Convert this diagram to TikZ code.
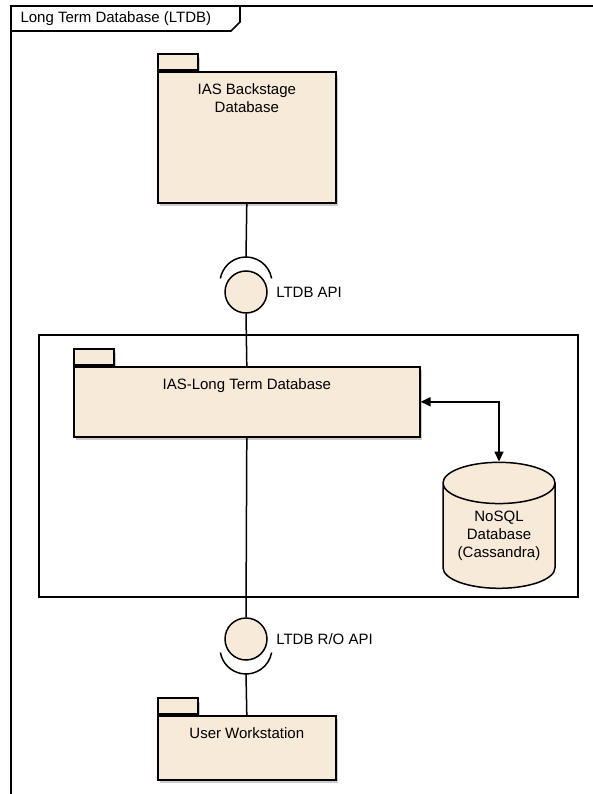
\documentclass[tikz,border=0pt]{standalone}
\usepackage{fontspec}
\setmainfont{Liberation Sans}
\usetikzlibrary{arrows.meta,positioning,shapes.geometric,shadows}
\definecolor{pkgbeige}{RGB}{247,234,216}

\tikzset{
  pkgbody/.style={draw, line width=1.6pt, fill=pkgbeige, anchor=north west, inner sep=0pt,
    drop shadow={shadow xshift=2.5pt, shadow yshift=-3.5pt, opacity=0.4}},
  pkgtab/.style={pkgbody, anchor=south west, minimum width=40pt, minimum height=16pt},
  pkgtext/.style={anchor=north, align=center, yshift=-9pt},
  ball/.style={circle, draw, line width=1.5pt, fill=pkgbeige, minimum size=42pt, inner sep=0pt},
  socket/.style={line width=1.5pt},
  wire/.style={line width=1.5pt},
  dbtip/.tip={Triangle[length=10pt,width=9pt]}
}

\begin{document}
\begin{tikzpicture}[x=1pt, y=1pt, font=\fontsize{15pt}{18pt}\selectfont]
\useasboundingbox (0,0) rectangle (592,-794);

% outer frame
\draw[line width=1.8pt] (11,-800) -- (11,-6) -- (600,-6);
\draw[line width=1.6pt] (11,-31) -- (231,-31) -- (240,-22) -- (240,-6);
\node[anchor=west] (title) at (17,-19) {Long Term Database (LTDB)};

% backstage package
\node[pkgtab] (bstab) at (157,-71) {};
\node[pkgbody, minimum width=178pt, minimum height=131pt,
  label={[pkgtext]north:{IAS Backstage\\Database}}] (backstage) at (157,-71) {};

% LTDB API
\node[ball] (api) at (246,-292) {};
\node[right=5pt of api] (apilbl) {LTDB API};
\coordinate (apisock) at ([yshift=35pt]api.center);
\draw[socket] ([yshift=9pt]api.center) ++(10:26) arc[start angle=10, end angle=170, radius=26];
\draw[wire] (backstage.south) -- (apisock);

% container
\node[draw, line width=1.6pt, minimum width=539pt, minimum height=262pt,
  anchor=north west, inner sep=0pt] (ltdbarea) at (38,-334) {};

% LTDB package
\node[pkgtab] (ltdbtab) at (73,-366) {};
\node[pkgbody, minimum width=346pt, minimum height=70pt,
  label={[pkgtext]north:IAS-Long Term Database}] (ltdb) at (73,-366) {};
\draw[wire] (api.south) -- (ltdb.north);

% cassandra
\node[cylinder, shape border rotate=90, aspect=0.5, draw, line width=1.5pt, fill=pkgbeige,
  minimum width=112pt, minimum height=126pt, align=center, inner sep=0pt]
  (nosql) at (499,-536) {NoSQL\\Database\\(Cassandra)};
\draw[wire, dbtip-dbtip] (ltdb.east) -| (nosql.top);

% LTDB R/O API
\node[ball] (roapi) at (246,-639) {};
\node[right=5pt of roapi] (rolbl) {LTDB R/O API};
\coordinate (rosock) at ([yshift=-35pt]roapi.center);
\draw[socket] ([yshift=-9pt]roapi.center) ++(-10:26) arc[start angle=-10, end angle=-170, radius=26];
\draw[wire] (ltdb.south) -- (roapi.north);

% user workstation
\node[pkgtab] (usertab) at (157,-715) {};
\node[pkgbody, minimum width=178pt, minimum height=64pt,
  label={[pkgtext]north:User Workstation}] (user) at (157,-715) {};
\draw[wire] (rosock) -- (user.north);
\end{tikzpicture}
\end{document}
